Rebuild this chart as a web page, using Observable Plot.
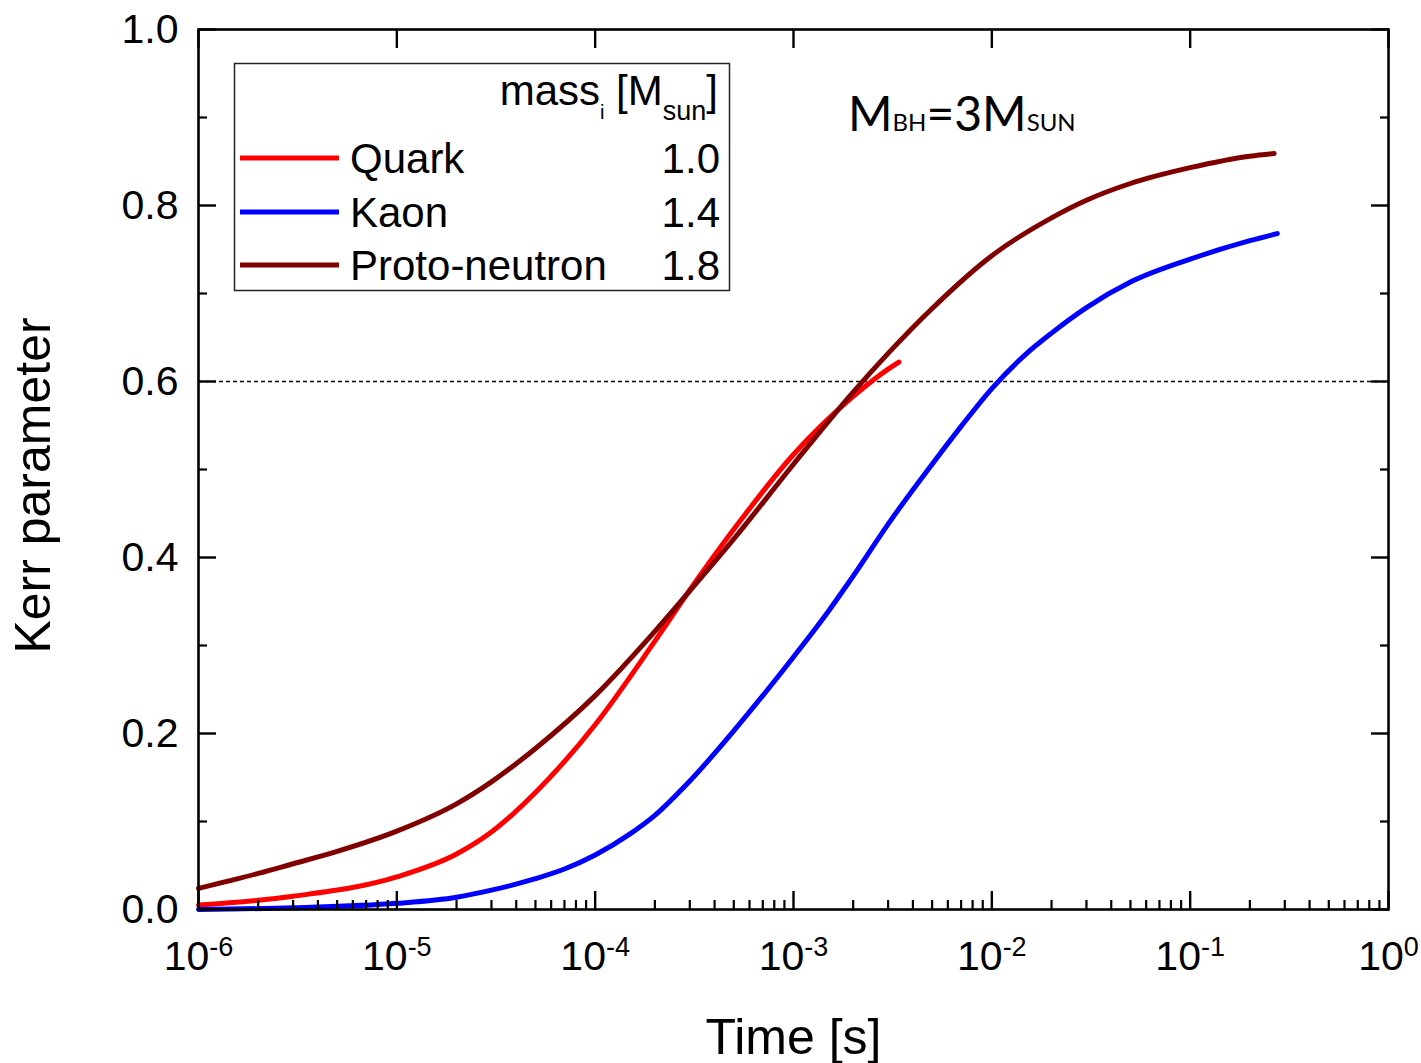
<!DOCTYPE html>
<html><head><meta charset="utf-8">
<script src="https://cdn.jsdelivr.net/npm/d3@7"></script>
<script src="https://cdn.jsdelivr.net/npm/@observablehq/plot@0.6"></script>
<style>
body{margin:0;background:#fff}
#chart{position:relative;width:1421px;height:1063px}
</style>
</head><body><div id="chart"></div>
<script>
// ---- data ----
const seriesNames  = ["Quark", "Kaon", "Proto-neutron"];
const seriesMasses = ["1.0", "1.4", "1.8"];
const seriesColors = ["#ff0000", "#0000ff", "#800000"];

const timeQuark = [1e-6, 3e-6, 1e-5, 2e-5, 3e-5, 5e-5, 1e-4, 2e-4, 3e-4, 5e-4, 1e-3, 2e-3, 3e-3, 3.4e-3];
const kerrQuark = [0.005, 0.015, 0.037, 0.063, 0.088, 0.133, 0.210, 0.305, 0.363, 0.432, 0.517, 0.583, 0.614, 0.622];

const timeKaon = [1e-6, 3e-6, 1e-5, 2e-5, 3e-5, 5e-5, 7e-5, 1e-4, 1.5e-4, 2e-4, 3e-4, 5e-4, 7e-4, 1e-3, 1.5e-3, 2e-3, 3e-3, 5e-3, 7e-3, 1e-2, 1.5e-2, 2e-2, 3e-2, 5e-2, 0.1, 0.2, 0.275];
const kerrKaon = [0.000, 0.002, 0.007, 0.014, 0.022, 0.035, 0.046, 0.062, 0.086, 0.107, 0.146, 0.203, 0.243, 0.287, 0.339, 0.379, 0.438, 0.506, 0.549, 0.592, 0.632, 0.655, 0.684, 0.713, 0.739, 0.760, 0.768];

const timeProto = [1e-6, 2e-6, 3e-6, 5e-6, 1e-5, 2e-5, 3e-5, 5e-5, 1e-4, 2e-4, 3e-4, 5e-4, 1e-3, 2e-3, 3e-3, 5e-3, 1e-2, 2e-2, 3e-2, 5e-2, 0.1, 0.2, 0.265];
const kerrProto = [0.024, 0.041, 0.052, 0.066, 0.089, 0.120, 0.145, 0.183, 0.243, 0.316, 0.362, 0.421, 0.506, 0.588, 0.632, 0.683, 0.743, 0.786, 0.806, 0.825, 0.843, 0.856, 0.859];

const xMajorTicks = [1e-6, 1e-5, 1e-4, 1e-3, 1e-2, 1e-1, 1];
const xTickExponents = ["-6", "-5", "-4", "-3", "-2", "-1", "0"];
const yMajorTicks = [0, 0.2, 0.4, 0.6, 0.8, 1.0];
const yMinorTicks = [0.1, 0.3, 0.5, 0.7, 0.9];
const referenceLevel = 0.6;

const xLabel = "Time [s]";
const yLabel = "Kerr parameter";

// ---- build table ----
const seriesTimes = [timeQuark, timeKaon, timeProto];
const seriesKerr  = [kerrQuark, kerrKaon, kerrProto];
const rows = seriesNames.flatMap((name, s) =>
  seriesTimes[s].map((t, i) => ({series: name, time: t, kerr: seriesKerr[s][i]})));

const xMinorTicks = xMajorTicks.slice(0, -1).flatMap(d => [2,3,4,5,6,7,8,9].map(k => d * k));

const FONT = "'Liberation Sans', Arial, Helvetica, sans-serif";
const noText = () => "";

const plot = Plot.plot({
  width: 1421, height: 1063,
  marginLeft: 198, marginRight: 33, marginTop: 29, marginBottom: 154,
  style: {fontFamily: FONT, background: "white", color: "black", overflow: "visible"},
  x: {type: "log", domain: [1e-6, 1], axis: null},
  y: {domain: [0, 1], axis: null},
  color: {domain: seriesNames, range: seriesColors},
  marks: [
    Plot.ruleY([referenceLevel], {stroke: "black", strokeWidth: 1.3, strokeDasharray: "4,3"}),
    Plot.line(rows, {x: "time", y: "kerr", z: "series", stroke: "series", strokeWidth: 5, curve: "monotone-x"}),
    // bottom ticks (inward), top major ticks (inward)
    Plot.axisX(xMajorTicks, {anchor: "bottom", tickSize: -18, tickFormat: noText, strokeWidth: 2.4, label: null}),
    Plot.axisX(xMinorTicks, {anchor: "bottom", tickSize: -9, tickFormat: noText, strokeWidth: 2.2, label: null}),
    Plot.axisX(xMajorTicks, {anchor: "top", tickSize: -18, tickFormat: noText, strokeWidth: 2.4, label: null}),
    // left / right ticks (inward)
    Plot.axisY(yMajorTicks, {anchor: "left", tickSize: -18, tickFormat: noText, strokeWidth: 2.4, label: null}),
    Plot.axisY(yMinorTicks, {anchor: "left", tickSize: -9, tickFormat: noText, strokeWidth: 2.2, label: null}),
    Plot.axisY(yMajorTicks, {anchor: "right", tickSize: -18, tickFormat: noText, strokeWidth: 2.4, label: null}),
    Plot.axisY(yMinorTicks, {anchor: "right", tickSize: -9, tickFormat: noText, strokeWidth: 2.2, label: null}),
    // y tick labels
    Plot.axisY(yMajorTicks, {anchor: "left", tickSize: 0, tickPadding: 20, tickFormat: d3.format(".1f"), fontSize: 41, label: null}),
    // x tick labels (10^n)
    Plot.text(xMajorTicks, {x: d => d, text: (d, i) => "10^" + xTickExponents[i], frameAnchor: "bottom", lineAnchor: "middle", textAnchor: "middle", dy: 47, fontSize: 41}),
    // axis titles
    Plot.text([xLabel], {text: d => d, frameAnchor: "bottom", lineAnchor: "middle", textAnchor: "middle", dy: 128, fontSize: 50}),
    Plot.text([yLabel], {text: d => d, frameAnchor: "left", lineAnchor: "middle", textAnchor: "middle", rotate: -90, dx: -165, dy: 16, fontSize: 50}),
    Plot.frame({stroke: "black", strokeWidth: 2.6})
  ]
});

document.getElementById("chart").appendChild(plot);
const svg = d3.select(plot);

// superscript exponents on x tick labels
svg.selectAll("text").each(function() {
  const el = d3.select(this);
  const m = /^10\^(.*)$/.exec(this.textContent);
  if (!m) return;
  el.text("");
  el.append("tspan").text("10");
  el.append("tspan").attr("dy", -14).attr("font-size", 27).text(m[1]);
});

// legend
const lg = svg.append("g").attr("font-family", FONT).attr("fill", "black").attr("text-anchor", "start");
lg.append("rect").attr("x", 234.5).attr("y", 63.5).attr("width", 495).attr("height", 227)
  .attr("fill", "white").attr("stroke", "#222").attr("stroke-width", 1.5);
const hdr = lg.append("text").attr("x", 718).attr("y", 105).attr("text-anchor", "end").attr("font-size", 42);
hdr.append("tspan").text("mass");
hdr.append("tspan").attr("font-size", 20).attr("dy", 14).text("i");
hdr.append("tspan").attr("dy", -14).text(" [M");
hdr.append("tspan").attr("font-size", 27).attr("dy", 15).text("sun");
hdr.append("tspan").attr("dy", -15).text("]");
const rowY = [158, 212, 265];
seriesNames.forEach((name, i) => {
  lg.append("line").attr("x1", 240).attr("x2", 339).attr("y1", rowY[i]).attr("y2", rowY[i])
    .attr("stroke", seriesColors[i]).attr("stroke-width", 5);
  lg.append("text").attr("x", 350).attr("y", rowY[i] + 15).attr("font-size", 42).text(name);
  lg.append("text").attr("x", 720).attr("y", rowY[i] + 15).attr("font-size", 42)
    .attr("text-anchor", "end").text(seriesMasses[i]);
});

// annotation
const ann = svg.append("text").attr("x", 848).attr("y", 131).attr("text-anchor", "start")
  .attr("font-family", "Lato, 'Open Sans', sans-serif").attr("font-size", 48).attr("fill", "black");
ann.append("tspan").text("M");
ann.append("tspan").attr("font-size", 24).text("BH");
ann.append("tspan").text("=3M");
ann.append("tspan").attr("font-size", 24).text("SUN");
</script>
</body></html>
